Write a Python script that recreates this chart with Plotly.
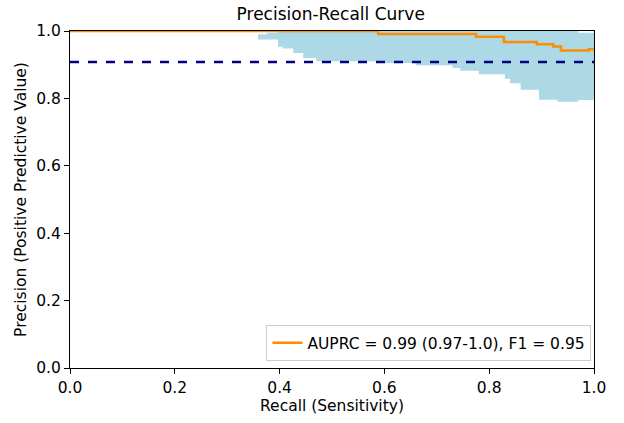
import plotly.graph_objects as go

# Main PR curve (step)
recall = [0.0, 0.588, 0.775, 0.828, 0.891, 0.922, 0.937, 0.99, 1.0]
precision = [1.0, 0.991, 0.983, 0.967, 0.961, 0.954, 0.942, 0.946, 0.946]

# Bootstrap band envelope
band_recall = [0.359, 0.376, 0.397, 0.406, 0.426, 0.445, 0.47, 0.60, 0.66, 0.73, 0.745,
               0.78, 0.83, 0.84, 0.86, 0.895, 0.93, 0.97, 1.0]
band_lower = [0.975, 0.975, 0.953, 0.948, 0.935, 0.92, 0.91, 0.905, 0.898, 0.89, 0.882,
              0.872, 0.858, 0.845, 0.826, 0.796, 0.79, 0.795, 0.80]
band_upper = [0.99, 0.995, 1.0, 1.0, 1.0, 1.0, 1.0, 1.0, 1.0, 1.0, 1.0,
              1.0, 1.0, 1.0, 1.0, 1.0, 1.0, 0.995, 0.995]

baseline = 0.908
legend_label = "AUPRC = 0.99 (0.97-1.0), F1 = 0.95"

fig = go.Figure()
fig.add_trace(go.Scatter(x=band_recall, y=band_lower, mode="lines", line=dict(width=0, shape="hv"),
                         showlegend=False, hoverinfo="skip"))
fig.add_trace(go.Scatter(x=band_recall, y=band_upper, mode="lines", line=dict(width=0, shape="hv"),
                         fill="tonexty", fillcolor="#ADD8E6", showlegend=False, hoverinfo="skip"))
fig.add_trace(go.Scatter(x=[0, 1], y=[baseline, baseline], mode="lines",
                         line=dict(color="#000080", width=2.5, dash="dash"), showlegend=False))
fig.add_trace(go.Scatter(x=recall, y=precision, mode="lines", name=legend_label,
                         line=dict(color="#FF8C00", width=2.5, shape="hv")))

axis_common = dict(range=[0, 1], showgrid=False, zeroline=False, showline=True, linecolor="black",
                   linewidth=1, mirror=True, ticks="outside", ticklen=5, tickcolor="black",
                   dtick=0.2, tickformat=".1f", tickfont=dict(size=15.5, color="black"))
fig.update_layout(
    width=624, height=423,
    margin=dict(l=70, r=30, t=31, b=53),
    paper_bgcolor="white", plot_bgcolor="white",
    font=dict(family="DejaVu Sans", color="black"),
    title=dict(text="Precision-Recall Curve", x=0.53, xanchor="center", y=0.967, yanchor="middle",
               font=dict(size=17)),
    xaxis=dict(title=dict(text="Recall (Sensitivity)", font=dict(size=15.5), standoff=4), **axis_common),
    yaxis=dict(title=dict(text="Precision (Positive Predictive Value)", font=dict(size=15.5), standoff=5),
               **axis_common),
    legend=dict(x=0.995, y=0.02, xanchor="right", yanchor="bottom", bgcolor="white",
                bordercolor="#cccccc", borderwidth=1, font=dict(size=15.5)),
)
fig.write_html("out.html", config={"displayModeBar": False},
               post_script="document.body.style.margin='0';")
